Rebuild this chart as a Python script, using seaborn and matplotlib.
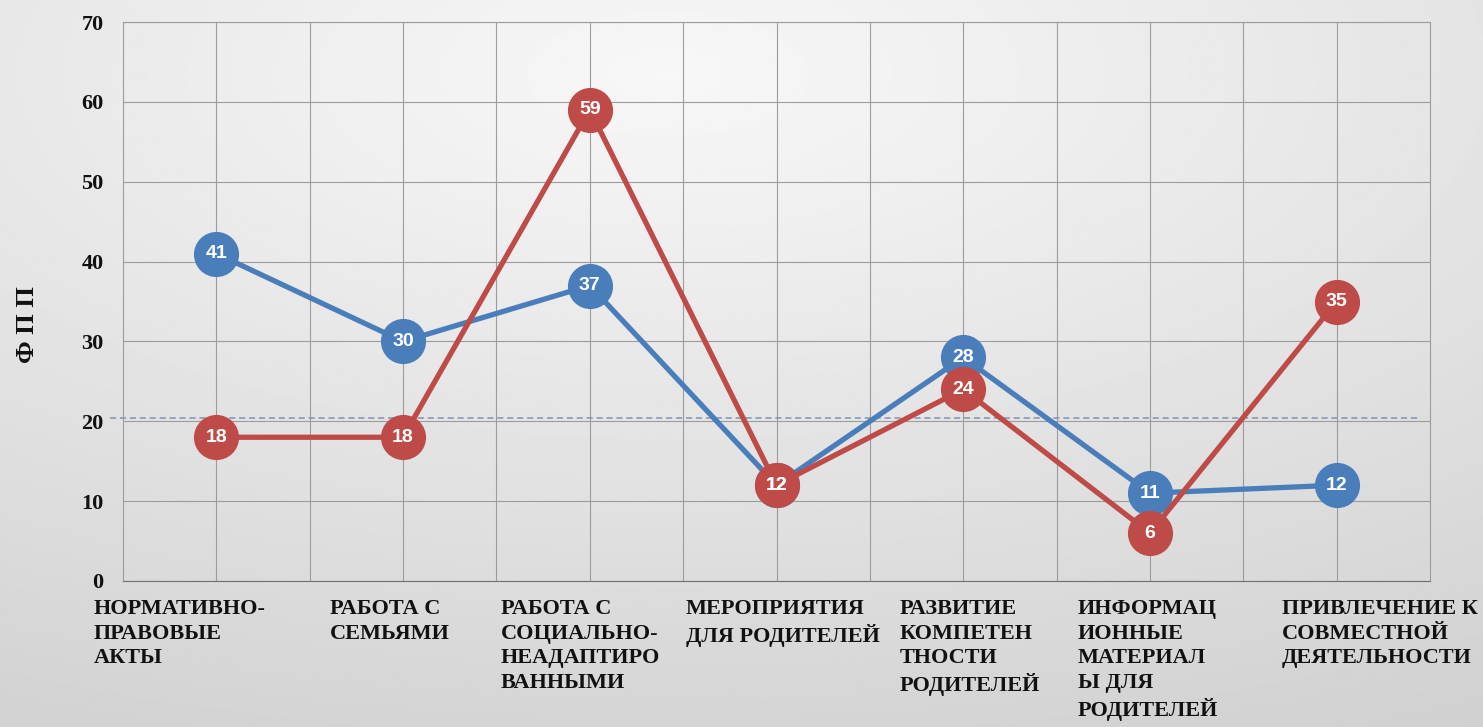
import numpy as np
import pandas as pd
import matplotlib.pyplot as plt
import matplotlib.transforms as mtransforms
import seaborn as sns

# Данные графика
categories = [
    'НОРМАТИВНО-\nПРАВОВЫЕ\nАКТЫ',
    'РАБОТА С\nСЕМЬЯМИ',
    'РАБОТА С\nСОЦИАЛЬНО-\nНЕАДАПТИРО\nВАННЫМИ',
    'МЕРОПРИЯТИЯ\nДЛЯ РОДИТЕЛЕЙ',
    'РАЗВИТИЕ\nКОМПЕТЕН\nТНОСТИ\nРОДИТЕЛЕЙ',
    'ИНФОРМАЦ\nИОННЫЕ\nМАТЕРИАЛ\nЫ ДЛЯ\nРОДИТЕЛЕЙ',
    'ПРИВЛЕЧЕНИЕ К\nСОВМЕСТНОЙ\nДЕЯТЕЛЬНОСТИ',
]
series_blue = [41, 30, 37, 12, 28, 11, 12]
series_red = [18, 18, 59, 12, 24, 6, 35]
reference_level = 20.4
y_ticks = [0, 10, 20, 30, 40, 50, 60, 70]
y_label = 'Ф П П'

BLUE = '#4a7ebb'
RED = '#be4b48'

# сдвиг подписей категорий (пиксели), как в исходной диаграмме
label_shift_px = [-37, -13, -9, 6, 7, -2, 43]

positions = list(range(len(categories)))
df = pd.DataFrame({
    'pos': positions * 2,
    'value': series_blue + series_red,
    'series': ['Ряд 1'] * len(positions) + ['Ряд 2'] * len(positions),
})

sns.set_theme(style='white')
plt.rcParams['font.family'] = ['Liberation Serif', 'DejaVu Serif']

fig = plt.figure(figsize=(14.83, 7.27), dpi=100)

# Фон с мягким градиентом
bg = fig.add_axes([0, 0, 1, 1], zorder=-10)
yy, xx = np.mgrid[0:1:300j, 0:1:600j]
r = np.sqrt(((xx - 0.45) / 1.1) ** 2 + ((yy - 0.1) / 1.0) ** 2)
shade = np.clip(0.97 - 0.15 * r, 0, 1)
bg.imshow(shade, cmap='gray', vmin=0, vmax=1, extent=[0, 1, 0, 1],
          aspect='auto', origin='upper')
bg.axis('off')

ax = fig.add_axes([123 / 1483, 1 - 581 / 727, (1430 - 123) / 1483, (581 - 22) / 727])
ax.set_facecolor('none')

sns.lineplot(data=df, x='pos', y='value', hue='series',
             palette={'Ряд 1': BLUE, 'Ряд 2': RED},
             marker='o', markersize=32.5, markeredgewidth=0,
             linewidth=3.8, legend=False, ax=ax, zorder=3)

# Подписи значений
for vals in (series_blue, series_red):
    for x, v in zip(positions, vals):
        ax.text(x, v, str(v), ha='center', va='center', color='white',
                fontsize=14, fontweight='bold', family='Liberation Sans',
                zorder=5)

# Пунктирная линия
ax.axhline(reference_level, xmin=-0.01, xmax=0.99, color='#7f93b5',
           linestyle=(0, (4, 2.5)), linewidth=1.1, zorder=2, clip_on=False)

ax.set_xlim(-0.5, len(categories) - 0.5)
ax.set_ylim(0, 70)
ax.set_yticks(y_ticks)
ax.set_xticks(positions, labels=categories)
ax.set_xticks([p + 0.5 for p in positions[:-1]], minor=True)
ax.grid(True, which='both', color='#9c9c9c', linewidth=0.8)
ax.set_axisbelow(True)
for side, sp in ax.spines.items():
    sp.set_visible(True)
    sp.set_color('#9c9c9c')
    sp.set_linewidth(0.8)
ax.spines['bottom'].set_color('#707070')

ax.tick_params(axis='x', which='both', length=0, pad=13, labelsize=16)
ax.tick_params(axis='y', length=0, pad=14, labelsize=16)
for lbl, dx in zip(ax.get_xticklabels(), label_shift_px):
    lbl.set_multialignment('left')
    lbl.set_fontweight('bold')
    lbl.set_linespacing(1.3)
    lbl.set_color('#111111')
    lbl.set_transform(lbl.get_transform() +
                      mtransforms.ScaledTranslation(dx / 100, 0, fig.dpi_scale_trans))
for lbl in ax.get_yticklabels():
    lbl.set_fontweight('bold')
    lbl.set_color('#111111')

ax.set_xlabel('')
ax.set_ylabel('')
fig.text(27 / 1483, 1 - 325 / 727, y_label, rotation=90, fontsize=19,
         fontweight='bold', ha='center', va='center', color='#111111')

fig.savefig('out.png', dpi=100)
